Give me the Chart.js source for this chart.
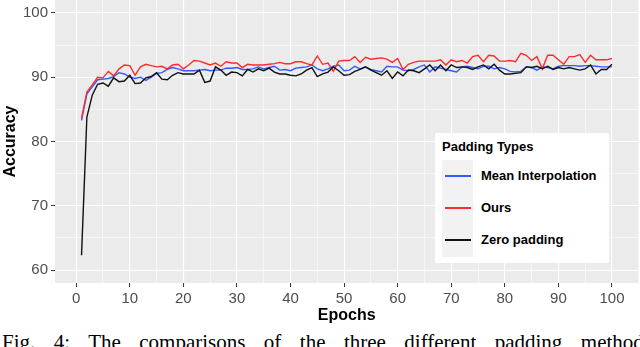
<!DOCTYPE html>
<html>
<head>
<meta charset="utf-8">
<script src="https://cdn.jsdelivr.net/npm/chart.js@4"></script>
<style>
  body { margin: 0; background: #fff; width: 640px; height: 347px; overflow: hidden; position: relative; }
  #wrap { position: absolute; left: 0; top: 0; width: 640px; height: 330px; }
  #legend { position: absolute; left: 435px; top: 133px; width: 174px; height: 130px; background: #fff;
            font-family: "Liberation Sans", Arial, sans-serif; font-weight: bold; color: #000; }
  #legend .title { position: absolute; left: 7px; top: 6px; font-size: 13px; }
  #legend .keys { position: absolute; left: 7px; top: 27px; width: 31px; height: 97px; background: #f2f2f2; }
  #legend .row { position: absolute; left: 0; height: 32px; width: 170px; }
  #legend .row i { position: absolute; left: 3px; top: 15px; width: 26px; height: 2px; }
  #legend .row span { position: absolute; left: 39px; top: 8px; font-size: 13px; white-space: nowrap; }
  #caption { position: absolute; left: 2px; top: 330px; width: 650px; font-family: "Liberation Serif", "Times New Roman", serif;
             font-size: 21px; line-height: 24px; text-align: justify; text-align-last: justify; white-space: nowrap; }
</style>
</head>
<body>
<div id="wrap"><canvas id="myChart" width="640" height="330"></canvas></div>
<div id="legend">
  <div class="title">Padding Types</div>
  <div class="keys"></div>
</div>
<div id="caption">Fig. 4: The comparisons of the three different padding methods</div>
<script>
// epochs 1..100
const epochs = [];
for (let e = 1; e <= 100; e++) epochs.push(e);

const meanInterp = [
  83.3, 87.4, 88.5, 89.6, 89.7, 89.8, 90.1, 90.7, 90.5, 90.0,
  89.8, 90.0, 89.5, 90.0, 90.6, 90.7, 91.2, 91.5, 91.3, 91.0,
  91.0, 91.0, 91.1, 91.2, 91.0, 91.1, 91.1, 91.4, 91.4, 91.5,
  91.2, 91.2, 91.3, 91.6, 91.3, 91.5, 91.7, 91.1, 91.2, 91.0,
  91.4, 91.5, 91.6, 91.9, 91.3, 91.0, 91.3, 91.7, 91.9, 91.0,
  91.1, 91.7, 91.3, 91.6, 91.2, 91.0, 90.8, 91.7, 91.6, 91.6,
  91.1, 91.0, 91.2, 91.6, 91.9, 90.8, 91.6, 91.4, 91.2, 91.0,
  90.8, 91.6, 91.7, 91.5, 91.3, 91.7, 91.7, 91.3, 91.5, 91.3,
  90.9, 90.8, 90.9, 91.6, 91.5, 91.1, 91.6, 91.5, 91.3, 91.7,
  91.8, 91.8, 91.8, 91.7, 91.8, 91.8, 91.7, 91.6, 91.6, 91.6
];

const ours = [
  83.6, 87.7, 88.8, 90.0, 89.9, 90.9, 90.2, 91.3, 91.9, 91.8,
  90.3, 91.6, 92.0, 91.8, 91.6, 91.7, 91.3, 91.9, 92.0, 91.3,
  91.9, 92.6, 92.5, 92.2, 91.9, 92.2, 91.7, 92.4, 92.2, 92.2,
  91.5, 92.0, 91.9, 91.9, 91.9, 92.0, 92.1, 92.3, 92.1, 92.1,
  92.4, 92.4, 92.1, 91.9, 93.3, 92.0, 92.2, 90.9, 92.5, 92.6,
  92.6, 93.2, 92.3, 93.1, 92.8, 92.9, 93.0, 92.8, 92.3, 92.9,
  91.2, 92.0, 92.3, 92.5, 92.5, 92.5, 92.5, 92.7, 91.9, 92.7,
  92.4, 92.6, 92.2, 93.2, 93.4, 92.4, 93.4, 93.3, 92.5, 92.5,
  92.6, 92.4, 93.7, 93.4, 92.6, 93.2, 91.3, 93.4, 93.4, 92.7,
  92.0, 93.2, 93.2, 93.5, 92.3, 93.4, 92.7, 92.7, 92.7, 92.9
];

const zeroPadding = [
  62.3, 83.8, 87.2, 88.9, 89.1, 88.6, 89.9, 89.3, 89.4, 90.3,
  89.0, 89.1, 89.9, 90.1, 90.7, 89.7, 89.6, 90.3, 90.7, 90.5,
  90.5, 90.5, 91.1, 89.2, 89.4, 91.6, 91.1, 90.3, 90.8, 90.7,
  90.2, 91.2, 90.8, 91.3, 91.0, 91.4, 90.8, 90.5, 90.5, 90.3,
  90.2, 90.5, 91.1, 91.5, 90.1, 90.5, 90.8, 91.6, 91.0, 90.3,
  90.4, 90.9, 91.2, 91.6, 91.1, 90.7, 90.3, 91.0, 89.8, 90.8,
  90.2, 91.1, 91.0, 90.7, 91.3, 91.9, 91.0, 91.9, 91.0, 91.9,
  91.5, 91.6, 91.5, 91.2, 91.6, 91.9, 91.3, 92.0, 91.1, 90.5,
  90.5, 90.6, 90.7, 91.6, 91.5, 91.7, 91.3, 91.7, 91.2, 91.5,
  91.3, 91.5, 91.3, 91.1, 91.3, 91.9, 90.5, 91.2, 91.2, 92.0
];

const seriesNames = ['Mean Interpolation', 'Ours', 'Zero padding'];
const seriesColors = ['#2f5bff', '#ff2a2a', '#111111'];

const xMajor = [0, 10, 20, 30, 40, 50, 60, 70, 80, 90, 100];
const xMinor = [5, 15, 25, 35, 45, 55, 65, 75, 85, 95];
const yMajor = [60, 70, 80, 90, 100];
const yMinor = [65, 75, 85, 95];

// build legend rows
const keys = document.querySelector('#legend .keys');
seriesNames.forEach((name, i) => {
    const row = document.createElement('div');
    row.className = 'row';
    row.style.top = (32 * i) + 'px';
    row.innerHTML = '<i style="background:' + seriesColors[i] + '"></i><span>' + name + '</span>';
    keys.appendChild(row);
});

function toPoints(values) {
    return values.map((v, i) => ({ x: epochs[i], y: v }));
}

// grey ggplot panel
const panelBg = {
    id: 'panelBg',
    beforeDraw(chart) {
        const a = chart.chartArea;
        const ctx = chart.ctx;
        ctx.save();
        ctx.fillStyle = '#ebebeb';
        ctx.fillRect(a.left, a.top, a.right - a.left, a.bottom - a.top);
        ctx.restore();
    }
};

function isMajor(ctx, major) {
    return ctx.tick && major.includes(ctx.tick.value);
}

function axis(min, max, major, minor, extra) {
    return Object.assign({
        type: 'linear',
        min: min,
        max: max,
        border: { display: false },
        afterBuildTicks(scale) {
            scale.ticks = major.concat(minor).sort((a, b) => a - b).map(v => ({ value: v }));
        },
        grid: {
            color: '#ffffff',
            lineWidth: ctx => isMajor(ctx, major) ? 1.1 : 0.55,
            tickColor: ctx => isMajor(ctx, major) ? '#333333' : 'rgba(0,0,0,0)',
            tickWidth: 1,
            tickLength: 4
        },
        ticks: {
            autoSkip: false,
            maxRotation: 0,
            color: '#4d4d4d',
            font: { family: '"Liberation Sans", Arial, sans-serif', size: 15 },
            callback: v => major.includes(v) ? String(v) : ''
        }
    }, extra);
}

const ctx = document.getElementById('myChart').getContext('2d');
const chart = new Chart(ctx, {
    type: 'line',
    data: {
        datasets: [meanInterp, ours, zeroPadding].map((vals, i) => ({
            label: seriesNames[i],
            data: toPoints(vals),
            borderColor: seriesColors[i],
            borderWidth: 1.4,
            pointRadius: 0,
            tension: 0,
            fill: false,
            order: 3 - i
        }))
    },
    options: {
        responsive: false,
        animation: false,
        layout: { autoPadding: false, padding: { left: 0, right: 1.5, top: 0, bottom: 0 } },
        plugins: { legend: { display: false }, tooltip: { enabled: false } },
        scales: {
            x: axis(-3.95, 104.95, xMajor, xMinor, {
                afterFit(scale) {
                    scale.height = 47;
                    scale.paddingLeft = 0;
                    scale.paddingRight = 0;
                },
                title: {
                    display: true, text: 'Epochs', color: '#000',
                    font: { family: '"Liberation Sans", Arial, sans-serif', size: 16, weight: 'bold' },
                    padding: { top: 0, bottom: 5 }
                }
            }),
            y: axis(58, 102, yMajor, yMinor, {
                afterFit(scale) {
                    scale.width = 55;
                    scale.paddingTop = 0;
                    scale.paddingBottom = 0;
                },
                title: {
                    display: true, text: 'Accuracy', color: '#000',
                    font: { family: '"Liberation Sans", Arial, sans-serif', size: 16, weight: 'bold' },
                    padding: { top: 1, bottom: 0 }
                }
            })
        }
    },
    plugins: [panelBg]
});
</script>
</body>
</html>
